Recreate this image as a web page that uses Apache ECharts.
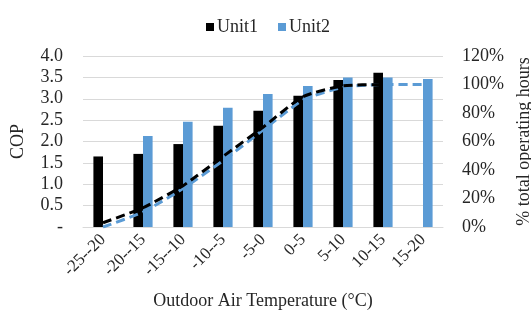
<!DOCTYPE html>
<html>
<head>
<meta charset="utf-8">
<script src="https://cdn.jsdelivr.net/npm/echarts@6/dist/echarts.min.js"></script>
<style>html,body{margin:0;padding:0;background:#fff}#c{width:531px;height:318px}</style>
</head>
<body>
<div id="c"></div>
<script>
var categories = ['-25--20','-20--15','-15--10','-10--5','-5-0','0-5','5-10','10-15','15-20'];
var unit1COP = [1.65, 1.71, 1.94, 2.37, 2.72, 3.07, 3.44, 3.61, null];
var unit2COP = [null, 2.13, 2.46, 2.79, 3.11, 3.30, 3.50, 3.50, 3.46];
var unit1Hours = [3, 13.5, 29, 49.5, 70, 91.5, 99, 100, null];
var unit2Hours = [0, 10.5, 27, 46.5, 68, 89, 98, 100, 100];
var copTicks = { 0: '-' };

var font = '"Liberation Serif", "Times New Roman", serif';
var txt = '#262626';
var chart = echarts.init(document.getElementById('c'), null, { renderer: 'canvas' });
chart.setOption({
  animation: false,
  backgroundColor: '#fff',
  textStyle: { fontFamily: font },
  legend: {
    data: ['Unit1', 'Unit2'],
    left: 201, top: 13,
    itemWidth: 8, itemHeight: 8, itemGap: 20,
    icon: 'rect',
    textStyle: { fontFamily: font, fontSize: 18, color: txt, padding: [0, 0, 0, -2] }
  },
  grid: { left: 83, right: 88, top: 56, bottom: 91, containLabel: false, outerBoundsMode: 'none' },
  xAxis: {
    type: 'category',
    data: categories,
    axisLine: { lineStyle: { color: '#d9d9d9', width: 1 } },
    axisTick: { show: false },
    axisLabel: { rotate: 45, fontFamily: font, fontSize: 17, color: txt, margin: 10, interval: 0 },
    name: 'Outdoor Air Temperature (°C)',
    nameLocation: 'middle', nameGap: 65,
    nameTextStyle: { fontFamily: font, fontSize: 18, color: txt }
  },
  yAxis: [{
    type: 'value', min: 0, max: 4, interval: 0.5,
    axisLine: { show: false }, axisTick: { show: false },
    splitLine: { lineStyle: { color: '#d9d9d9', width: 1 } },
    axisLabel: {
      fontFamily: font, fontSize: 18, color: txt, margin: 20,
      formatter: function (v) { return copTicks[v] !== undefined ? copTicks[v] : v.toFixed(1); }
    },
    name: 'COP', nameLocation: 'middle', nameGap: 56, nameRotate: 90,
    nameTextStyle: { fontFamily: font, fontSize: 18, color: txt }
  }, {
    type: 'value', min: 0, max: 120, interval: 20,
    axisLine: { show: false }, axisTick: { show: false },
    splitLine: { show: false },
    axisLabel: { fontFamily: font, fontSize: 18, color: txt, margin: 19, formatter: '{value}%' },
    name: '% total operating hours', nameLocation: 'middle', nameGap: 70, nameRotate: 90,
    nameTextStyle: { fontFamily: font, fontSize: 18, color: txt }
  }],
  series: [{
    name: 'Unit1', type: 'bar', data: unit1COP, barWidth: '24%', barGap: '0%',
    itemStyle: { color: '#000000' }
  }, {
    name: 'Unit2', type: 'bar', data: unit2COP, barWidth: '24%', barGap: '0%',
    itemStyle: { color: '#5b9bd5' }
  }, {
    name: 'Unit2 hours', type: 'line', yAxisIndex: 1, data: unit2Hours,
    smooth: 0.2, symbol: 'none', connectNulls: false,
    lineStyle: { color: '#5b9bd5', width: 3, type: [9, 5] }, z: 3
  }, {
    name: 'Unit1 hours', type: 'line', yAxisIndex: 1, data: unit1Hours,
    smooth: 0.2, symbol: 'none', connectNulls: false,
    lineStyle: { color: '#000000', width: 3, type: [9, 5] }, z: 4
  }]
});
</script>
</body>
</html>
